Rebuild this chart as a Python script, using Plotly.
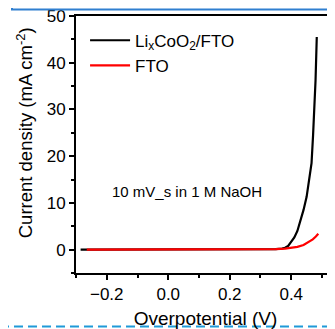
import plotly.graph_objects as go

# ---- data ----
x_lco = [-0.285, -0.2, -0.1, 0.0, 0.1, 0.2, 0.3, 0.35, 0.37, 0.38, 0.39, 0.40, 0.41,
         0.42, 0.43, 0.44, 0.45, 0.46, 0.466, 0.471, 0.475, 0.479, 0.483]
y_lco = [0, 0, 0, 0, 0, 0.02, 0.05, 0.12, 0.25, 0.4, 0.8, 1.6, 2.6,
         4.0, 6.0, 8.5, 11.3, 15.3, 18.5, 24.5, 30.0, 36.2, 45.5]

x_fto = [-0.265, -0.2, -0.1, 0.0, 0.1, 0.2, 0.3, 0.35, 0.38, 0.40, 0.42, 0.44,
         0.46, 0.47, 0.48, 0.488]
y_fto = [0, 0, 0, 0, 0, 0.02, 0.05, 0.1, 0.2, 0.35, 0.6, 1.0,
         1.7, 2.2, 2.8, 3.4]

series_names = ["Li<sub>x</sub>CoO<sub>2</sub>/FTO", "FTO"]
x_title = "Overpotential (V)"
y_title = "Current density (mA cm<sup>-2</sup>)"
note_text = "10 mV_s in 1 M NaOH"
note_pos = (0.061, 12.5)

FONT = "Arial, Liberation Sans, sans-serif"

fig = go.Figure()
fig.add_trace(go.Scatter(x=x_lco, y=y_lco, mode="lines", name=series_names[0],
                         line=dict(color="black", width=2.2), legendgroup="a"))
fig.add_trace(go.Scatter(x=x_fto, y=y_fto, mode="lines", name=series_names[1],
                         line=dict(color="#ff0000", width=2.2), legendgroup="b"))

axis_common = dict(showgrid=False, zeroline=False, showline=True, linecolor="black",
                   linewidth=2, ticks="outside", tickcolor="black", tickwidth=1.5,
                   ticklen=5, automargin=False, ticklabeloverflow="allow",
                   tickfont=dict(size=17, color="black", family=FONT))

fig.update_xaxes(range=[-0.30, 0.5423], dtick=0.2, tick0=0, tickformat=".1f",
                 mirror=True,
                 minor=dict(dtick=0.1, tick0=0, ticks="outside", ticklen=3,
                            tickcolor="black", tickwidth=1.5),
                 title=dict(text=x_title, font=dict(size=19, family=FONT, color="black"),
                            standoff=12),
                 **axis_common)
fig.update_yaxes(range=[-5, 50], dtick=10, tick0=0,
                 minor=dict(dtick=5, tick0=0, ticks="outside", ticklen=3,
                            tickcolor="black", tickwidth=1.5),
                 **axis_common)

# y-axis title placed as a rotated annotation (its centre sits above the plot centre)
fig.add_annotation(text=y_title, xref="paper", yref="paper",
                   x=(25 - 76) / 259, y=(273 - 133) / 257.5, textangle=-90,
                   showarrow=False, xanchor="center", yanchor="middle",
                   font=dict(size=18.5, family=FONT, color="black"))

fig.add_annotation(text=note_text, x=note_pos[0], y=note_pos[1], showarrow=False,
                   font=dict(size=15, family=FONT, color="black"))

# frame pieces of the surrounding (cropped) figure
fig.add_shape(type="rect", xref="paper", yref="paper",
              x0=(12 - 76) / 259, x1=(345 - 76) / 259,
              y0=(273 - 9) / 257.5, y1=(273 + 20) / 257.5 + 1,
              line=dict(color="#2f7fd0", width=2), layer="above")
fig.add_shape(type="line", xref="paper", yref="paper",
              x0=-76 / 259, x1=1.0, y0=(273 - 326.5) / 257.5, y1=(273 - 326.5) / 257.5,
              line=dict(color="#1f9ad8", width=2, dash="9px,5px"))

# the page body adds an 8px margin, so the figure is 8px smaller than the window
fig.update_layout(
    width=327, height=321,
    margin=dict(l=68, r=0, t=7.5, b=56, pad=0, autoexpand=False),
    paper_bgcolor="white", plot_bgcolor="white",
    font=dict(family=FONT, color="black"),
    showlegend=True,
    legend=dict(x=0.035, y=0.974, xanchor="left", yanchor="top",
                bgcolor="rgba(0,0,0,0)", font=dict(size=17, family=FONT, color="black"),
                tracegroupgap=0, itemwidth=40),
)

fig.write_html("out.html")
